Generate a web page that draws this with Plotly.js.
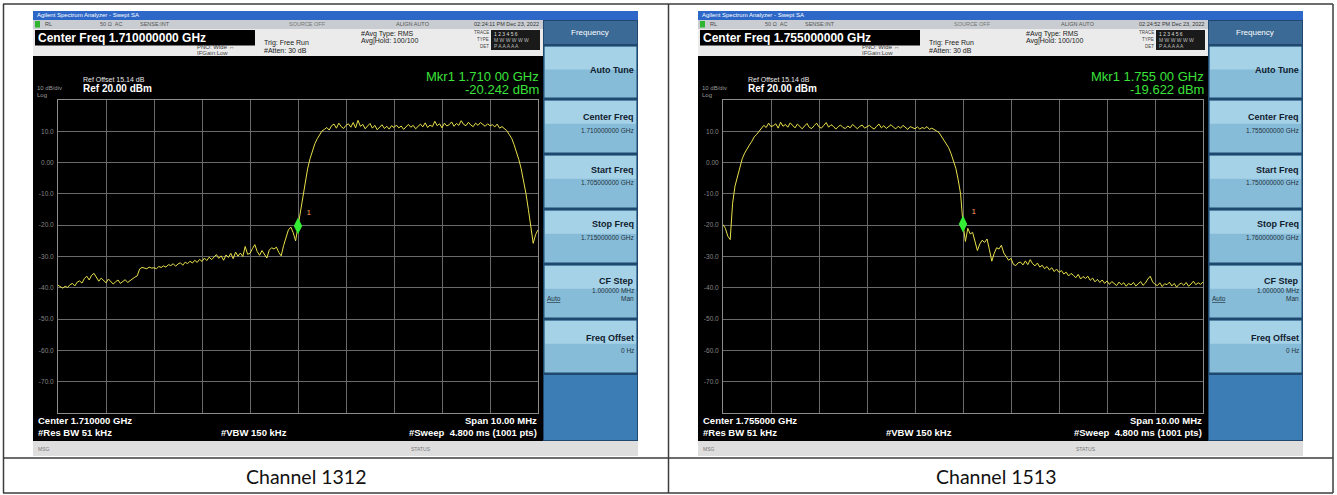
<!DOCTYPE html>
<html><head><meta charset="utf-8">
<script src="https://cdn.plot.ly/plotly-3.0.1.min.js"></script>
<style>html,body{margin:0;padding:0;background:#fff;overflow:hidden}#chart{width:1337px;height:495px}</style>
</head><body><div id="chart"></div>
<script>
// ---------------- data ----------------
const sweepStartMHz = [1705, 1750];
const sweepStopMHz = [1715, 1760];
const sweepStepMHz = 0.05;
const ch1312Power = [
-39.2,-39.8,-40.1,-39.5,-39.9,-39.0,-38.6,-39.4,-38.2,-37.8,
-38.5,-37.0,-36.3,-37.5,-36.0,-35.4,-36.8,-37.9,-36.9,-37.6,
-38.4,-37.2,-38.0,-38.8,-38.1,-37.5,-38.6,-38.0,-37.4,-38.3,
-37.7,-37.0,-36.6,-36.2,-34.0,-33.5,-33.8,-33.9,-33.4,-33.7,
-33.6,-33.9,-33.2,-33.5,-33.0,-33.4,-32.6,-32.9,-32.3,-33.1,
-32.4,-32.0,-32.8,-31.8,-32.3,-31.5,-32.1,-31.2,-31.9,-30.9,
-31.6,-30.5,-31.3,-30.2,-31.0,-30.1,-29.4,-30.6,-29.8,-31.2,
-29.5,-30.3,-29.0,-30.7,-28.6,-29.9,-28.9,-30.0,-26.8,-29.3,
-29.0,-27.5,-26.2,-28.4,-29.6,-28.1,-29.2,-30.5,-28.0,-27.2,
-27.6,-27.0,-28.7,-29.8,-26.5,-23.8,-21.5,-20.6,-22.4,-25.0,
-20.2,-15.0,-10.5,-5.8,-2.0,1.2,4.0,6.0,7.6,9.0,
10.1,
10.6,11.2,10.4,11.8,12.3,11.0,12.6,11.5,10.9,11.9,
12.4,11.3,12.8,11.1,13.5,11.6,12.2,10.8,11.7,12.5,
11.0,11.9,10.5,11.4,12.1,10.9,11.6,10.7,11.8,11.2,
12.0,11.1,11.7,10.6,11.5,12.2,11.3,11.9,10.8,11.6,
12.3,11.4,12.7,11.2,12.0,11.5,13.2,11.8,12.4,11.1,
12.6,11.7,12.1,13.0,11.6,12.5,11.9,13.4,12.2,11.8,
12.9,12.0,11.5,12.6,11.9,12.8,12.2,11.6,12.4,11.8,
12.1,11.4,12.3,11.0,11.5,
10.8,10.2,9.0,7.8,5.8,3.6,1.0,-2.0,-5.8,-10.0,-15.0,-20.5,-25.8,-23.0,-21.5
];
const ch1513Power = [
-19.8,-21.0,-23.5,-24.6,-13.0,-7.5,-4.6,-1.5,1.2,3.0,4.5,5.6,6.8,8.2,9.0,10.0,10.8,11.9,11.2,12.6,11.5,
11.8,12.4,11.0,12.9,11.6,12.2,11.3,12.7,11.9,11.1,
12.3,11.5,10.8,11.7,12.5,11.2,10.9,11.8,12.6,11.4,
11.0,11.9,12.8,11.3,12.1,11.6,10.7,11.5,12.0,11.2,
10.9,11.7,11.1,12.2,11.4,10.8,11.6,12.0,11.0,11.5,
11.9,11.2,10.7,11.6,12.3,11.1,11.8,10.9,11.4,12.1,
11.3,10.8,11.6,11.0,11.9,11.2,10.6,11.5,11.1,10.8,
11.4,10.7,11.2,10.9,11.5,10.6,11.0,10.4,10.1,
9.6,8.4,7.4,6.2,4.8,2.9,0.8,-1.8,-5.5,-10.0,
-19.6,-25.2,-21.0,-22.8,-22.3,-25.6,-28.1,-26.0,-24.8,-25.5,
-24.4,-27.8,-31.5,-29.0,-27.2,-27.6,-26.4,-28.9,-30.2,-31.2,
-30.6,-32.5,-32.9,-32.0,-31.8,-32.7,-31.4,-32.6,-31.0,-32.3,
-33.0,-32.1,-33.4,-32.8,-33.9,-33.2,-34.3,-33.6,-34.8,-34.0,-35.1,
-34.5,-35.6,-35.0,-36.2,-35.4,-36.0,-36.8,-35.7,-37.2,-36.4,
-37.0,-36.3,-37.6,-36.9,-38.1,-37.3,-38.3,-37.5,-38.6,-37.8,
-38.9,-38.0,-38.7,-39.3,-38.2,-39.0,-38.4,-39.5,-38.6,-39.1,
-38.3,-39.4,-38.8,-38.0,-39.2,-38.5,-37.2,-36.3,-38.1,-38.9,
-39.3,-38.4,-39.6,-38.7,-39.0,-38.2,-39.4,-38.6,-39.8,-38.9,
-38.5,-39.2,-38.3,-39.5,-38.8,-37.9,-39.0,-38.4,-38.9,-38.1
];
const markerFreqMHz = [1710, 1755];
const markerPower = [-20.242, -19.622];
const yTickVals = [10, 0, -10, -20, -30, -40, -50, -60, -70];
const yTickText = ["10.0", "0.00", "-10.0", "-20.0", "-30.0", "-40.0", "-50.0", "-60.0", "-70.0"];
const captions = ["Channel 1312", "Channel 1513"];
const centerFreqText = ["1.710000000 GHz", "1.755000000 GHz"];
const startFreqText = ["1.705000000 GHz", "1.750000000 GHz"];
const stopFreqText = ["1.715000000 GHz", "1.760000000 GHz"];
const centerShortText = ["1.710000 GHz", "1.755000 GHz"];
const mkrFreqText = ["1.710 00 GHz", "1.755 00 GHz"];
const mkrPowerText = ["-20.242 dBm", "-19.622 dBm"];
const timeText = ["02:24:11 PM Dec 23, 2022", "02:24:52 PM Dec 23, 2022"];

// ---------------- helpers ----------------
const W = 1337, H = 495;
const X = v => v / W;
const Y = v => 1 - v / H;
const shapes = [], annotations = [];
const SANS = 'Liberation Sans, Arial, sans-serif';
function box(x0, y0, x1, y1, fill, lc, lw, layer) {
  shapes.push({type: 'rect', xref: 'paper', yref: 'paper', x0: X(x0), x1: X(x1), y0: Y(y1), y1: Y(y0),
    fillcolor: fill, line: {color: lc || 'rgba(0,0,0,0)', width: lw || 0}, layer: layer || 'below'});
}
function seg(x0, y0, x1, y1, color, w) {
  shapes.push({type: 'line', xref: 'paper', yref: 'paper', x0: X(x0), x1: X(x1), y0: Y(y0), y1: Y(y1),
    line: {color: color, width: w}, layer: 'above'});
}
function label(x, y, text, size, color, anchor, bold, family) {
  annotations.push({xref: 'paper', yref: 'paper', x: X(x), y: Y(y), text: bold ? '<b>' + text + '</b>' : text,
    showarrow: false, xanchor: anchor || 'left', yanchor: 'middle', borderpad: 0,
    font: {size: size, color: color, family: family || SANS}});
}

const offsets = [0, 665];
function panel(k) {
  const d = offsets[k];
  const L = 33 + d, R = 638 + d, P = 543 + d;
  box(L, 11, R, 456, '#000000');
  // title bar
  box(L, 11, R, 20, '#2d68c8');
  label(L + 3, 15.5, 'Agilent Spectrum Analyzer - Swept SA', 6, '#ffffff');
  // status row
  box(L, 20, R, 29, '#c9cdd2');
  box(L + 2, 21, L + 7, 27.5, '#2fb52f');
  label(L + 11, 24.5, 'RL', 5.5, '#444');
  label(L + 66, 24.5, '50 Ω  AC', 5.5, '#555');
  label(L + 106, 24.5, 'SENSE:INT', 5.5, '#555');
  label(L + 255, 24.5, 'SOURCE OFF', 5.5, '#777');
  label(L + 362, 24.5, 'ALIGN AUTO', 5.5, '#555');
  label(P - 3, 24.5, timeText[k], 5.5, '#333', 'right');
  // info area
  box(L, 29, P, 56, '#ebebeb');
  box(L + 2, 30, 255 + d, 45.5, '#000000');
  label(L + 4, 38, 'Center Freq ' + centerFreqText[k], 12, '#ffffff', 'left', true);
  label(196 + d, 47.5, 'PNO: Wide ↔', 6, '#333');
  label(196 + d, 53, 'IFGain:Low', 6, '#444');
  label(263 + d, 43, 'Trig: Free Run', 7, '#222');
  label(263 + d, 50.5, '#Atten: 30 dB', 7, '#222');
  label(360 + d, 34, '#Avg Type: RMS', 7, '#222');
  label(360 + d, 41, 'Avg|Hold: 100/100', 7, '#222');
  label(490 + d, 32.5, 'TRACE', 4.5, '#444', 'right');
  label(490 + d, 39.5, 'TYPE', 4.5, '#444', 'right');
  label(490 + d, 46.5, 'DET', 4.5, '#444', 'right');
  box(491 + d, 30, 540 + d, 50, '#1a1a1a');
  label(493 + d, 34, '1 2 3 4 5 6', 5, '#dddddd');
  label(493 + d, 40, 'M W W W W W', 5, '#bbbbbb');
  label(493 + d, 46, 'P A A A A A', 5, '#bbbbbb');
  // display texts
  label(82 + d, 79, 'Ref Offset 15.14 dB', 7, '#e6e6e6');
  label(82 + d, 88, 'Ref 20.00 dBm', 10, '#ffffff', 'left', true);
  label(36 + d, 88, '10 dB/div', 6, '#9a9a9a');
  label(36 + d, 94.5, 'Log', 6, '#9a9a9a');
  label(540 + d, 76, 'Mkr1 ' + mkrFreqText[k], 13, '#3ae23a', 'right');
  label(540 + d, 89, mkrPowerText[k], 13, '#3ae23a', 'right');
  label(37 + d, 420, 'Center ' + centerShortText[k], 9.5, '#ffffff', 'left', true);
  label(37 + d, 432, '#Res BW 51 kHz', 9.5, '#ffffff', 'left', true);
  label(220 + d, 432, '#VBW 150 kHz', 9.5, '#ffffff', 'left', true);
  label(538 + d, 420, 'Span 10.00 MHz', 9.5, '#ffffff', 'right', true);
  label(538 + d, 432, '#Sweep  4.800 ms (1001 pts)', 9.5, '#ffffff', 'right', true);
  // msg bar
  box(L, 441, R, 456, '#dedede');
  label(L + 4, 448.5, 'MSG', 5, '#777');
  label(410 + d, 448.5, 'STATUS', 5, '#777');
  // soft keys
  box(P, 20, R, 441, '#21476f');
  box(P + 1, 21, R - 1, 44, '#3b6a96');
  label(590 + d, 33, 'Frequency', 8, '#ffffff', 'center');
  const keys = [[46, 98], [100, 153], [155, 208], [210, 263], [265, 318], [320, 373]];
  keys.forEach(([a, b]) => {
    box(P + 1, a, R - 1, b, '#86bcd8', '#1e4a70', 1);
    box(P + 2, a + 1, R - 2, a + (b - a) * 0.45, '#a6d2e8');
  });
  box(P + 1, 375, R - 1, 440, '#3d7db5');
  const KX = R - 3, KC = '#10202e';
  label(KX, 70, 'Auto Tune', 9, KC, 'right', true);
  label(KX, 117, 'Center Freq', 9, KC, 'right', true);
  label(KX, 130, centerFreqText[k], 6.5, '#24323e', 'right');
  label(KX, 170, 'Start Freq', 9, KC, 'right', true);
  label(KX, 183, startFreqText[k], 6.5, '#24323e', 'right');
  label(KX, 224, 'Stop Freq', 9, KC, 'right', true);
  label(KX, 237, stopFreqText[k], 6.5, '#24323e', 'right');
  label(KX, 281, 'CF Step', 9, KC, 'right', true);
  label(KX, 290, '1.000000 MHz', 6.5, '#24323e', 'right');
  label(P + 3, 298, '<u>Auto</u>', 6.5, '#24323e');
  label(KX, 298, 'Man', 6.5, '#24323e', 'right');
  label(KX, 338, 'Freq Offset', 9, KC, 'right', true);
  label(KX, 350, '0 Hz', 6.5, '#24323e', 'right');
}
panel(0); panel(1);

// table borders
const TC = '#3c3c3c';
seg(3, 4, 1333, 4, TC, 1.5);
seg(3, 458, 1333, 458, TC, 1.5);
seg(3, 493, 1333, 493, TC, 1.5);
seg(3.5, 4, 3.5, 493, TC, 1.5);
seg(668.5, 4, 668.5, 493, TC, 1.5);
seg(1333, 4, 1333, 493, TC, 1.5);
label(306, 476, captions[0], 19.5, '#111', 'center', false, 'Lato, Noto Sans, sans-serif');
label(996, 476, captions[1], 19.5, '#111', 'center', false, 'Lato, Noto Sans, sans-serif');

// ---------------- traces ----------------
function freqs(k) { return ch1312Power.map((_, i) => +(sweepStartMHz[k] + i * sweepStepMHz).toFixed(3)); }
const traceColor = '#e9e14a';
const data = [
  {x: freqs(0), y: ch1312Power, xaxis: 'x', yaxis: 'y', type: 'scatter', mode: 'lines', line: {color: traceColor, width: 1}, hoverinfo: 'skip'},
  {x: freqs(1), y: ch1513Power, xaxis: 'x2', yaxis: 'y2', type: 'scatter', mode: 'lines', line: {color: traceColor, width: 1}, hoverinfo: 'skip'},
  {x: [markerFreqMHz[0]], y: [markerPower[0]], xaxis: 'x', yaxis: 'y', type: 'scatter', mode: 'markers+text', text: ['1'], textposition: 'top right',
   textfont: {size: 8, color: '#ff9c5a', family: SANS}, marker: {symbol: 'diamond-tall', size: 12, color: '#33ee33'}},
  {x: [markerFreqMHz[1]], y: [markerPower[1]], xaxis: 'x2', yaxis: 'y2', type: 'scatter', mode: 'markers+text', text: ['1'], textposition: 'top right',
   textfont: {size: 8, color: '#ff9c5a', family: SANS}, marker: {symbol: 'diamond-tall', size: 12, color: '#33ee33'}}
];

const gridC = '#6a6a6a';
function xax(k) {
  return {domain: [X(58 + offsets[k]), X(538 + offsets[k])], range: [sweepStartMHz[k], sweepStopMHz[k]], dtick: 1, tick0: sweepStartMHz[k],
    showgrid: true, gridcolor: gridC, gridwidth: 1, zeroline: false, showticklabels: false, ticks: '',
    showline: true, linecolor: '#8c8c8c', linewidth: 1, mirror: true, anchor: k ? 'y2' : 'y', fixedrange: true};
}
function yax(k) {
  return {domain: [Y(413), Y(100)], range: [-80, 20], tickvals: yTickVals, ticktext: yTickText,
    showgrid: true, gridcolor: gridC, gridwidth: 1, zeroline: false, ticks: '', ticklabelstandoff: 2,
    tickfont: {size: 6.5, color: '#858585', family: SANS},
    showline: true, linecolor: '#8c8c8c', linewidth: 1, mirror: true, anchor: k ? 'x2' : 'x', fixedrange: true};
}
const layout = {
  width: W, height: H, margin: {l: 0, r: 0, t: 0, b: 0},
  paper_bgcolor: '#ffffff', plot_bgcolor: '#000000', showlegend: false,
  xaxis: xax(0), yaxis: yax(0), xaxis2: xax(1), yaxis2: yax(1),
  shapes: shapes, annotations: annotations
};
Plotly.newPlot('chart', data, layout, {displayModeBar: false, staticPlot: true});
</script></body></html>
